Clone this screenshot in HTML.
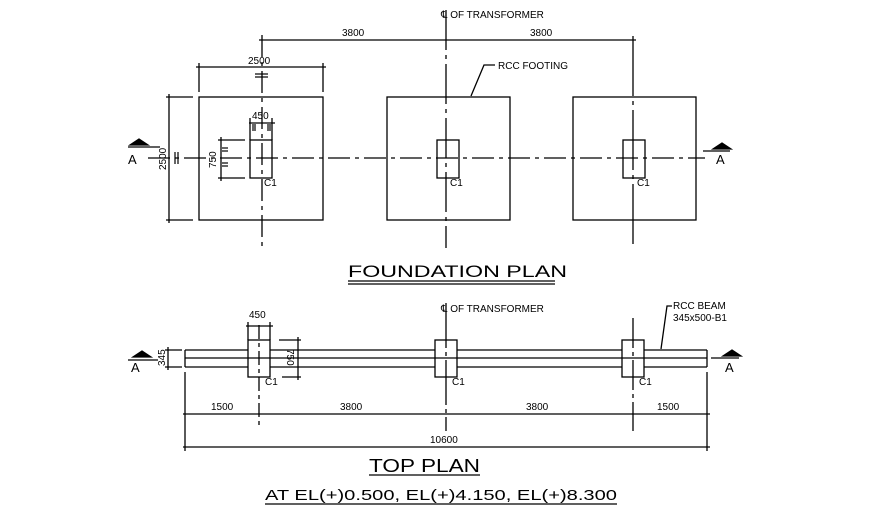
<!DOCTYPE html>
<html><head><style>body{margin:0;background:#fff}svg{display:block}text{font-family:"Liberation Sans",sans-serif;fill:#000}</style></head>
<body>
<svg width="890" height="516" viewBox="0 0 890 516" xmlns="http://www.w3.org/2000/svg" stroke="#000" stroke-width="1.3" fill="none">
<!-- FOUNDATION PLAN -->
<rect x="199" y="97" width="124" height="123"/>
<rect x="387" y="97" width="123" height="123"/>
<rect x="573" y="97" width="123" height="123"/>
<rect x="250" y="140" width="22" height="38"/>
<rect x="437" y="140" width="22" height="38"/>
<rect x="623" y="140" width="22" height="38"/>
<line x1="148" y1="158" x2="705" y2="158" stroke-dasharray="22,5,4,5"/>
<line x1="262" y1="35" x2="262" y2="248" stroke-dasharray="22,5,4,5"/>
<line x1="446" y1="10" x2="446" y2="248" stroke-dasharray="40,5,4,5"/>
<line x1="633" y1="36" x2="633" y2="248" stroke-dasharray="60,5,4,5"/>
<!-- dims -->
<line x1="259" y1="40" x2="636" y2="40"/>
<line x1="196" y1="67" x2="326" y2="67"/>
<line x1="199" y1="63" x2="199" y2="92"/><line x1="323" y1="63" x2="323" y2="92"/>
<line x1="166" y1="97" x2="193" y2="97"/><line x1="166" y1="220" x2="193" y2="220"/>
<line x1="169" y1="94" x2="169" y2="223"/>
<line x1="249" y1="123" x2="275" y2="123"/>
<line x1="250" y1="118" x2="250" y2="140"/><line x1="272" y1="118" x2="272" y2="140"/>
<line x1="218" y1="140" x2="245" y2="140"/><line x1="218" y1="178" x2="245" y2="178"/>
<line x1="221" y1="137" x2="221" y2="181"/>
<g stroke-width="1.2">
<line x1="255" y1="74" x2="268" y2="74"/><line x1="255" y1="77" x2="268" y2="77"/>
<line x1="175" y1="152" x2="175" y2="164"/><line x1="178" y1="152" x2="178" y2="164"/>
<line x1="253" y1="124" x2="253" y2="131"/><line x1="255" y1="124" x2="255" y2="131"/>
<line x1="268" y1="124" x2="268" y2="131"/><line x1="270" y1="124" x2="270" y2="131"/>
<line x1="222" y1="148" x2="228" y2="148"/><line x1="222" y1="151" x2="228" y2="151"/>
<line x1="222" y1="163" x2="228" y2="163"/><line x1="222" y1="166" x2="228" y2="166"/>
</g>
<!-- leader -->
<polyline points="495,65 484,65 471,96"/>
<!-- A markers -->
<line x1="128" y1="147" x2="160" y2="147"/><polygon points="130,145 148,145 139,139" fill="#000"/>
<line x1="703" y1="151" x2="730" y2="151"/><polygon points="713,149 731,149 722,143" fill="#000"/>
<!-- TOP PLAN -->
<line x1="185" y1="350" x2="707" y2="350"/>
<line x1="185" y1="358" x2="707" y2="358"/>
<line x1="185" y1="367" x2="707" y2="367"/>
<line x1="185" y1="350" x2="185" y2="367"/><line x1="707" y1="350" x2="707" y2="367"/>
<rect x="248" y="340" width="22" height="37" fill="#fff"/>
<rect x="435" y="340" width="22" height="37" fill="#fff"/>
<rect x="622" y="340" width="22" height="37" fill="#fff"/>
<line x1="248" y1="358" x2="270" y2="358"/><line x1="435" y1="358" x2="457" y2="358"/><line x1="622" y1="358" x2="644" y2="358"/>
<line x1="259" y1="325" x2="259" y2="426" stroke-dasharray="14,4,4,4"/>
<line x1="446" y1="303" x2="446" y2="431" stroke-dasharray="45,4,4,4"/>
<line x1="633" y1="318" x2="633" y2="431" stroke-dasharray="30,4,4,4"/>
<line x1="246" y1="326" x2="273" y2="326"/>
<line x1="248" y1="322" x2="248" y2="340"/><line x1="270" y1="322" x2="270" y2="340"/>
<line x1="279" y1="340" x2="301" y2="340"/><line x1="282" y1="377" x2="301" y2="377"/>
<line x1="298" y1="337" x2="298" y2="380"/>
<line x1="165" y1="350" x2="182" y2="350"/><line x1="165" y1="367" x2="182" y2="367"/>
<line x1="168" y1="347" x2="168" y2="370"/>
<line x1="185" y1="372" x2="185" y2="451"/><line x1="707" y1="372" x2="707" y2="451"/>
<line x1="183" y1="414" x2="710" y2="414"/>
<line x1="183" y1="447" x2="710" y2="447"/>
<polyline points="672,306 667,306 661,349"/>
<line x1="128" y1="360" x2="158" y2="360"/><polygon points="133,357 151,357 142,351" fill="#000"/>
<line x1="711" y1="358" x2="739" y2="358"/><polygon points="723,356 741,356 732,350" fill="#000"/>
<!-- title underlines -->
<line x1="348" y1="281" x2="555" y2="281"/><line x1="348" y1="284" x2="555" y2="284"/>
<line x1="369" y1="475" x2="480" y2="475"/>
<line x1="265" y1="504" x2="617" y2="504"/>
<g stroke="none" fill="#000">
<text x="441" y="18" font-size="10">℄  OF TRANSFORMER</text>
<text x="441" y="312" font-size="10">℄  OF TRANSFORMER</text>
<text x="342" y="36" font-size="10">3800</text>
<text x="530" y="36" font-size="10">3800</text>
<text x="248" y="64" font-size="10">2500</text>
<text x="252" y="119" font-size="10">450</text>
<text x="498" y="69" font-size="10">RCC FOOTING</text>
<text x="264" y="186" font-size="10">C1</text>
<text x="450" y="186" font-size="10">C1</text>
<text x="637" y="186" font-size="10">C1</text>
<text font-size="10" transform="translate(166,170) rotate(-90)">2500</text>
<text font-size="10" transform="translate(216,168) rotate(-90)">750</text>
<text x="128" y="164" font-size="13">A</text>
<text x="716" y="164" font-size="13">A</text>
<text x="348" y="277" font-size="17" textLength="219" lengthAdjust="spacingAndGlyphs">FOUNDATION   PLAN</text>
<text x="249" y="318" font-size="10">450</text>
<text x="265" y="385" font-size="10">C1</text>
<text x="452" y="385" font-size="10">C1</text>
<text x="639" y="385" font-size="10">C1</text>
<text font-size="10" transform="translate(287,349) rotate(90)">750</text>
<text font-size="10" transform="translate(165,366) rotate(-90)">345</text>
<text x="673" y="309" font-size="10">RCC BEAM</text>
<text x="673" y="321" font-size="10">345x500-B1</text>
<text x="131" y="372" font-size="13">A</text>
<text x="725" y="372" font-size="13">A</text>
<text x="211" y="410" font-size="10">1500</text>
<text x="340" y="410" font-size="10">3800</text>
<text x="526" y="410" font-size="10">3800</text>
<text x="657" y="410" font-size="10">1500</text>
<text x="430" y="443" font-size="10">10600</text>
<text x="369" y="472" font-size="18" textLength="111" lengthAdjust="spacingAndGlyphs">TOP  PLAN</text>
<text x="265" y="500" font-size="15" textLength="352" lengthAdjust="spacingAndGlyphs">AT  EL(+)0.500,  EL(+)4.150,  EL(+)8.300</text>
</g>
</svg>
</body></html>
